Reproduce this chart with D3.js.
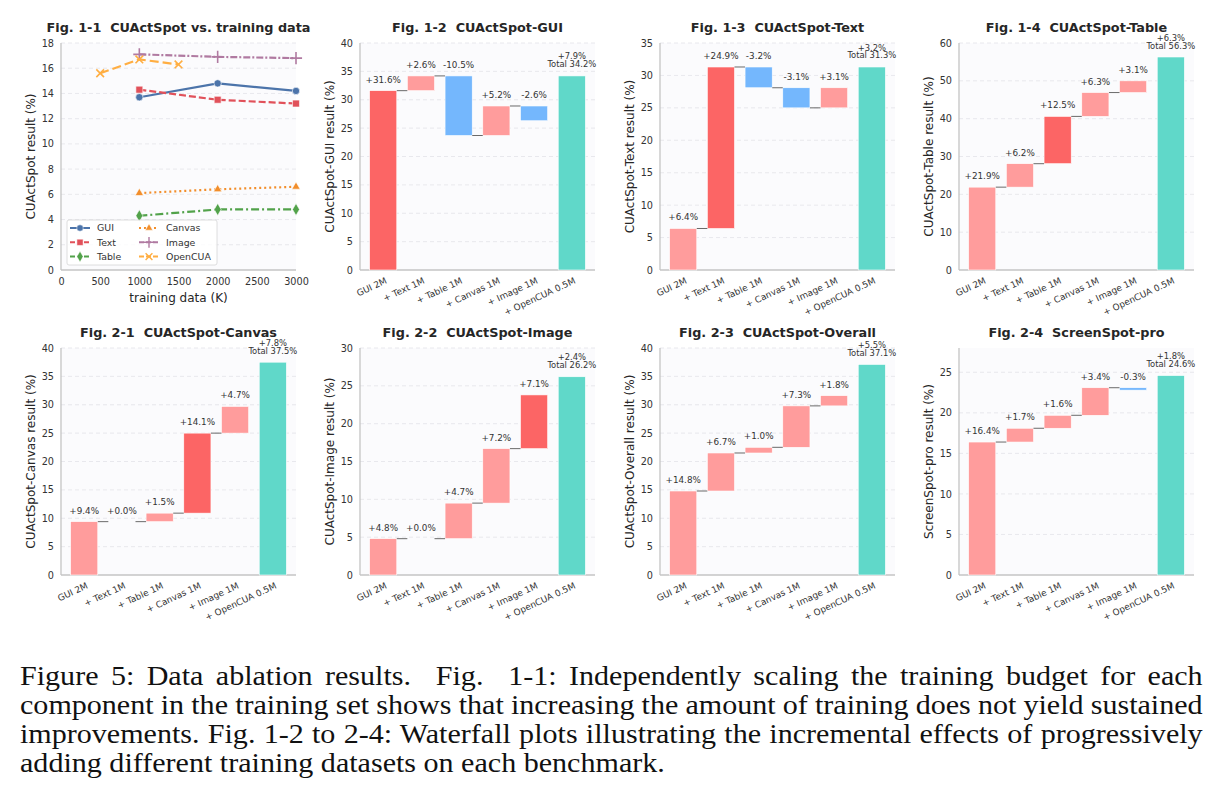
<!DOCTYPE html>
<html>
<head>
<meta charset="utf-8">
<script src="https://cdn.jsdelivr.net/npm/d3@7"></script>
<style>
  body { margin: 0; background: #fff; }
  text { font-family: "DejaVu Sans", sans-serif; }
</style>
</head>
<body>
<div id="chart"></div>
<script>
// categories of the waterfall plots
var categories = ["GUI 2M", "+ Text 1M", "+ Table 1M", "+ Canvas 1M", "+ Image 1M", "+ OpenCUA 0.5M"];

// increments (%) for each waterfall panel
var guiDeltas     = [31.6, 2.6, -10.5, 5.2, -2.6, 7.9];
var textDeltas    = [6.4, 24.9, -3.2, -3.1, 3.1, 3.2];
var tableDeltas   = [21.9, 6.2, 12.5, 6.3, 3.1, 6.3];
var canvasDeltas  = [9.4, 0.0, 1.5, 14.1, 4.7, 7.8];
var imageDeltas   = [4.8, 0.0, 4.7, 7.2, 7.1, 2.4];
var overallDeltas = [14.8, 6.7, 1.0, 7.3, 1.8, 5.5];
var proDeltas     = [16.4, 1.7, 1.6, 3.4, -0.3, 1.8];

// Fig. 1-1 line data: training data (K) vs CUActSpot result
var sizes        = [1000, 2000, 3000];
var opencuaSizes = [500, 1000, 1500];
var guiLine      = [13.7, 14.8, 14.2];
var textLine     = [14.3, 13.5, 13.2];
var tableLine    = [4.3, 4.8, 4.8];
var canvasLine   = [6.1, 6.4, 6.6];
var imageLine    = [17.1, 16.9, 16.8];
var opencuaLine  = [15.6, 16.7, 16.3];
var xTicks       = [0, 500, 1000, 1500, 2000, 2500, 3000];

var captionLines = [
  "Figure 5: Data ablation results.  Fig.  1-1: Independently scaling the training budget for each",
  "component in the training set shows that increasing the amount of training does not yield sustained",
  "improvements. Fig. 1-2 to 2-4: Waterfall plots illustrating the incremental effects of progressively",
  "adding different training datasets on each benchmark."
];

// layout
var colX  = [61, 360, 660, 959];
var rowY  = [43, 348];
var plotW = 235;
var plotH = 227;

var darkRed = "#fc6565", lightRed = "#ff9c9c", negBlue = "#74b7fd", totalTeal = "#60d8c9";

var svg = d3.select("#chart")
            .append("svg")
            .attr("width", 1221)
            .attr("height", 799);

svg.append("rect").attr("width", 1221).attr("height", 799).attr("fill", "#fff");

// common frame: background, grid, spines, y axis, title, y label
function frame(g, y, ticks, title, yLabel) {
  g.append("rect")
    .attr("width", plotW).attr("height", plotH)
    .attr("fill", "#fbfbfd");

  g.selectAll(".grid")
    .data(ticks.filter(function(t) { return t > 0; }))
    .enter().append("line")
      .attr("x1", 0).attr("x2", plotW)
      .attr("y1", function(d) { return y(d); })
      .attr("y2", function(d) { return y(d); })
      .attr("stroke", "#e3e3e8")
      .attr("stroke-width", 0.8)
      .attr("stroke-dasharray", "4,3");

  var yAxis = g.append("g")
    .call(d3.axisLeft(y).tickValues(ticks).tickSize(0).tickPadding(7));
  yAxis.select(".domain").remove();
  yAxis.selectAll("text").attr("font-size", 9.7).attr("fill", "#333");

  // spines
  g.append("line").attr("x1", 0).attr("x2", 0).attr("y1", 0).attr("y2", plotH)
    .attr("stroke", "#c4c4c4").attr("stroke-width", 1.3);
  g.append("line").attr("x1", 0).attr("x2", plotW).attr("y1", plotH).attr("y2", plotH)
    .attr("stroke", "#c4c4c4").attr("stroke-width", 1.3);

  g.append("text")
    .attr("x", plotW / 2).attr("y", -11)
    .attr("text-anchor", "middle")
    .attr("font-size", 12.8)
    .attr("font-weight", "bold")
    .attr("fill", "#262626")
    .style("white-space", "pre")
    .text(title);

  g.append("text")
    .attr("transform", "translate(-26," + (plotH / 2) + ") rotate(-90)")
    .attr("text-anchor", "middle")
    .attr("font-size", 12)
    .attr("fill", "#262626")
    .text(yLabel);
}

// draw one waterfall panel
function waterfall(col, row, title, yLabel, deltas, yMax, yStep, hi) {
  var g = svg.append("g")
             .attr("transform", "translate(" + colX[col] + "," + rowY[row] + ")");

  var x = d3.scaleBand().domain(categories).range([0, plotW])
            .paddingInner(0.28).paddingOuter(0.255);
  var y = d3.scaleLinear().domain([0, yMax]).range([plotH, 0]);
  var ticks = d3.range(0, yMax + 0.001, yStep);

  frame(g, y, ticks, title, yLabel);

  // running totals
  var cum = 0;
  var steps = deltas.map(function(d, i) {
    var start = cum;
    cum = Math.round((cum + d) * 10) / 10;
    return { cat: categories[i], d: d, start: i === 5 ? 0 : start, end: cum, i: i };
  });

  g.selectAll(".bar")
    .data(steps)
    .enter().append("rect")
      .attr("x", function(s) { return x(s.cat); })
      .attr("y", function(s) { return y(Math.max(s.start, s.end)); })
      .attr("width", x.bandwidth())
      .attr("height", function(s) { return Math.abs(y(s.start) - y(s.end)); })
      .attr("fill", function(s) {
        if (s.i === 5) return totalTeal;
        if (s.d < 0) return negBlue;
        return s.i === hi ? darkRed : lightRed;
      })
      .attr("stroke", "#fff")
      .attr("stroke-width", 0.6);

  // connectors
  g.selectAll(".conn")
    .data(steps.slice(0, 4))
    .enter().append("line")
      .attr("x1", function(s) { return x(s.cat) + x.bandwidth(); })
      .attr("x2", function(s) { return x(categories[s.i + 1]); })
      .attr("y1", function(s) { return y(s.end); })
      .attr("y2", function(s) { return y(s.end); })
      .attr("stroke", "#6a6a6a")
      .attr("stroke-width", 1);

  function fmt(d) { return (d >= 0 ? "+" : "") + d.toFixed(1) + "%"; }

  // value labels
  g.selectAll(".lbl")
    .data(steps.slice(0, 5))
    .enter().append("text")
      .attr("x", function(s) { return x(s.cat) + x.bandwidth() / 2; })
      .attr("y", function(s) { return y(Math.max(s.start, s.end)) - 8; })
      .attr("text-anchor", "middle")
      .attr("font-size", 8.8)
      .attr("fill", "#333")
      .text(function(s) { return fmt(s.d); });

  var last = steps[5];
  var tx = x(last.cat) + x.bandwidth() / 2;
  g.append("text")
    .attr("x", tx).attr("y", y(last.end) - 16.5)
    .attr("text-anchor", "middle").attr("font-size", 8.4).attr("fill", "#333")
    .text(fmt(last.d));
  g.append("text")
    .attr("x", tx).attr("y", y(last.end) - 8.5)
    .attr("text-anchor", "middle").attr("font-size", 8.4).attr("fill", "#333")
    .text("Total " + last.end.toFixed(1) + "%");

  // rotated category labels
  var xAxis = g.append("g")
    .attr("transform", "translate(0," + plotH + ")")
    .call(d3.axisBottom(x).tickSize(0));
  xAxis.select(".domain").remove();
  xAxis.selectAll("text")
    .attr("y", 0).attr("dy", "0.35em")
    .attr("text-anchor", "end")
    .attr("transform", "translate(3,10) rotate(-25)")
    .attr("font-size", 8.9)
    .attr("fill", "#333");
}

// Fig. 1-1 line chart
function lineChart() {
  var g = svg.append("g")
             .attr("transform", "translate(" + colX[0] + "," + rowY[0] + ")");
  var x = d3.scaleLinear().domain([0, 3000]).range([0, plotW]);
  var y = d3.scaleLinear().domain([0, 18]).range([plotH, 0]);
  var ticks = d3.range(0, 18.001, 2);

  frame(g, y, ticks, "Fig. 1-1  CUActSpot vs. training data", "CUActSpot result (%)");

  var xAxis = g.append("g")
    .attr("transform", "translate(0," + plotH + ")")
    .call(d3.axisBottom(x).tickValues(xTicks).tickSize(0).tickPadding(8).tickFormat(d3.format("d")));
  xAxis.select(".domain").remove();
  xAxis.selectAll("text").attr("font-size", 9.7).attr("fill", "#333");

  g.append("text")
    .attr("x", plotW / 2).attr("y", plotH + 32)
    .attr("text-anchor", "middle")
    .attr("font-size", 12)
    .attr("fill", "#262626")
    .text("training data (K)");

  var series = [
    { name: "GUI",     xs: sizes,        ys: guiLine,     color: "#4c74aa", dash: null,       sym: d3.symbolCircle,   size: 42, open: false },
    { name: "Text",    xs: sizes,        ys: textLine,    color: "#e1515a", dash: "7,3",      sym: d3.symbolSquare,   size: 48, open: false },
    { name: "Table",   xs: sizes,        ys: tableLine,   color: "#52a24a", dash: "8,3,2,3",  sym: d3.symbolDiamond,  size: 42, open: false },
    { name: "Canvas",  xs: sizes,        ys: canvasLine,  color: "#f28e2b", dash: "2,3",      sym: d3.symbolTriangle, size: 30, open: false },
    { name: "Image",   xs: sizes,        ys: imageLine,   color: "#b07aa1", dash: "7,2,2,2",  sym: d3.symbolPlus,     size: 50, open: true },
    { name: "OpenCUA", xs: opencuaSizes, ys: opencuaLine, color: "#ffae42", dash: "9,4",      sym: d3.symbolTimes,    size: 40, open: true }
  ];

  var line = d3.line()
    .x(function(d) { return x(d[0]); })
    .y(function(d) { return y(d[1]); });

  series.forEach(function(s) {
    var pts = s.xs.map(function(v, i) { return [v, s.ys[i]]; });
    g.append("path")
      .attr("d", line(pts))
      .attr("fill", "none")
      .attr("stroke", s.color)
      .attr("stroke-width", 2.2)
      .attr("stroke-dasharray", s.dash);
    g.selectAll(null)
      .data(pts)
      .enter().append("path")
        .attr("transform", function(d) { return "translate(" + x(d[0]) + "," + y(d[1]) + ")"; })
        .attr("d", d3.symbol().type(s.sym).size(s.size))
        .attr("fill", s.open ? "none" : s.color)
        .attr("stroke", s.open ? s.color : "#fff")
        .attr("stroke-width", s.open ? 1.6 : 0.6);
  });

  // legend
  var lg = g.append("g").attr("transform", "translate(6,177)");
  lg.append("rect")
    .attr("width", 150).attr("height", 45).attr("rx", 2)
    .attr("fill", "#fff").attr("fill-opacity", 0.85)
    .attr("stroke", "#d6d6d6").attr("stroke-width", 0.8);
  series.forEach(function(s, i) {
    var cx = i < 3 ? 3 : 72;
    var cy = 8 + (i % 3) * 14.3;
    lg.append("line")
      .attr("x1", cx).attr("x2", cx + 20).attr("y1", cy).attr("y2", cy)
      .attr("stroke", s.color).attr("stroke-width", 2)
      .attr("stroke-dasharray", s.dash === "2,3" ? s.dash : (s.dash ? "5,2" : null));
    lg.append("path")
      .attr("transform", "translate(" + (cx + 10) + "," + cy + ")")
      .attr("d", d3.symbol().type(s.sym).size(s.size * 0.8))
      .attr("fill", s.open ? "none" : s.color)
      .attr("stroke", s.open ? s.color : "#fff")
      .attr("stroke-width", s.open ? 1.4 : 0.5);
    lg.append("text")
      .attr("x", cx + 27).attr("y", cy).attr("dy", "0.35em")
      .attr("font-size", 9.4).attr("fill", "#333")
      .text(s.name);
  });
}

lineChart();
waterfall(1, 0, "Fig. 1-2  CUActSpot-GUI",     "CUActSpot-GUI result (%)",     guiDeltas,     40, 5, 0);
waterfall(2, 0, "Fig. 1-3  CUActSpot-Text",    "CUActSpot-Text result (%)",    textDeltas,    35, 5, 1);
waterfall(3, 0, "Fig. 1-4  CUActSpot-Table",   "CUActSpot-Table result (%)",   tableDeltas,   60, 10, 2);
waterfall(0, 1, "Fig. 2-1  CUActSpot-Canvas",  "CUActSpot-Canvas result (%)",  canvasDeltas,  40, 5, 3);
waterfall(1, 1, "Fig. 2-2  CUActSpot-Image",   "CUActSpot-Image result (%)",   imageDeltas,   30, 5, 4);
waterfall(2, 1, "Fig. 2-3  CUActSpot-Overall", "CUActSpot-Overall result (%)", overallDeltas, 40, 5, -1);
waterfall(3, 1, "Fig. 2-4  ScreenSpot-pro",    "ScreenSpot-pro result (%)",    proDeltas,     28, 5, -1);

// caption: condensed serif, justified by word spacing
var capWidths = [1183, 1183, 1183, 645];
var capLines = svg.selectAll(".cap")
  .data(captionLines)
  .enter().append("text")
    .attr("x", 0)
    .attr("y", 0)
    .style("font-family", "'Liberation Serif', 'Times New Roman', serif")
    .style("white-space", "pre")
    .attr("font-size", 28)
    .attr("fill", "#111")
    .text(function(d) { return d; });

var natural = capLines.nodes().map(function(n) { return n.getComputedTextLength(); });
var sx = capWidths[3] / natural[3];
capLines
  .attr("transform", function(d, i) { return "translate(20," + (685 + i * 29) + ") scale(" + sx + ",1)"; })
  .style("word-spacing", function(d, i) {
    if (i === 3) return null;
    var spaces = d.split(" ").length - 1;
    return ((capWidths[i] / sx - natural[i]) / spaces) + "px";
  });
</script>
</body>
</html>
